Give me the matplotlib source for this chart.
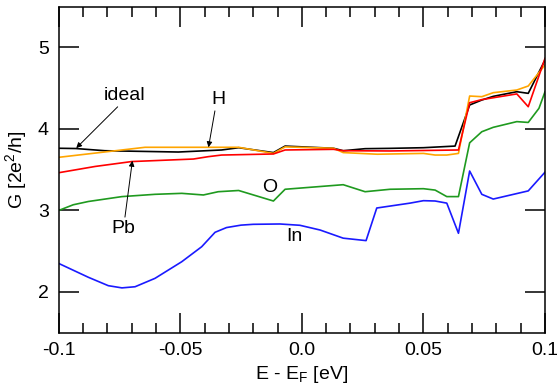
import matplotlib
matplotlib.use("Agg")
import matplotlib.pyplot as plt
from matplotlib.ticker import MultipleLocator

plt.rcParams['font.family'] = ['Liberation Sans', 'DejaVu Sans']

# ideal (black)
x_ideal = [-0.1, -0.093, -0.081, -0.0508, -0.033, -0.026, -0.0117, -0.0069, 0.013, 0.017, 0.026,
           0.0363, 0.05, 0.063, 0.069, 0.074, 0.0787, 0.0884, 0.0931, 0.1]
y_ideal = [3.763, 3.76, 3.733, 3.717, 3.742, 3.77, 3.71, 3.79, 3.763, 3.733, 3.758,
           3.762, 3.77, 3.79, 4.294, 4.355, 4.40, 4.457, 4.437, 4.846]

# H (orange)
x_h = [-0.1, -0.0645, -0.0405, -0.026, -0.0117, -0.0069, 0.013, 0.017, 0.031, 0.05, 0.0548,
       0.0596, 0.0644, 0.069, 0.074, 0.0787, 0.0884, 0.0931, 0.1]
y_h = [3.652, 3.775, 3.775, 3.775, 3.70, 3.78, 3.763, 3.71, 3.69, 3.70, 3.68,
       3.68, 3.70, 4.404, 4.396, 4.445, 4.478, 4.527, 4.785]

# Pb (red)
x_pb = [-0.1, -0.085, -0.07, -0.0446, -0.0385, -0.033, -0.0117, -0.0069, 0.013, 0.017, 0.0363, 0.0644,
        0.069, 0.074, 0.0884, 0.0931, 0.1]
y_pb = [3.463, 3.54, 3.60, 3.631, 3.66, 3.68, 3.693, 3.742, 3.75, 3.733, 3.73, 3.742,
        4.322, 4.36, 4.43, 4.273, 4.867]

# O (green)
x_o = [-0.1, -0.094, -0.0878, -0.074, -0.0604, -0.0494, -0.0405, -0.0344, -0.026, -0.0117, -0.0069, 0.017,
       0.026, 0.0363, 0.05, 0.0548, 0.0596, 0.0644, 0.069, 0.074, 0.0787, 0.0884, 0.0931, 0.0975, 0.1]
y_o = [3.0, 3.07, 3.11, 3.17, 3.198, 3.21, 3.19, 3.23, 3.245, 3.116, 3.26, 3.316,
       3.23, 3.26, 3.267, 3.25, 3.17, 3.17, 3.83, 3.966, 4.02, 4.09, 4.08, 4.253, 4.457]

# In (blue)
x_in = [-0.1, -0.0878, -0.0796, -0.074, -0.0686, -0.0604, -0.0494, -0.0412, -0.0357, -0.031, -0.025,
        -0.02, -0.009, -0.0008, 0.0075, 0.017, 0.0264, 0.0308, 0.0445, 0.05, 0.0548, 0.0596, 0.0644,
        0.069, 0.074, 0.0787, 0.0931, 0.1]
y_in = [2.35, 2.18, 2.077, 2.05, 2.064, 2.167, 2.371, 2.555, 2.732, 2.79, 2.82,
        2.83, 2.834, 2.818, 2.76, 2.66, 2.63, 3.03, 3.09, 3.12, 3.116, 3.09, 2.72,
        3.484, 3.198, 3.14, 3.24, 3.47]

fig = plt.figure(figsize=(5.57, 3.90), dpi=100)
ax = fig.add_axes([0.1054, 0.1469, 0.8731, 0.8359])

lw = 1.2
ax.plot(x_ideal, y_ideal, color='black', lw=lw)
ax.plot(x_h, y_h, color='#ffa500', lw=lw)
ax.plot(x_pb, y_pb, color='#ff0000', lw=lw)
ax.plot(x_o, y_o, color='#1f9a1f', lw=lw)
ax.plot(x_in, y_in, color='#1a1aff', lw=lw)

ax.set_xlim(-0.1, 0.1)
ax.set_ylim(1.5, 5.5)
ax.xaxis.set_minor_locator(MultipleLocator(0.01))
ax.set_xticks([-0.1, -0.05, 0.0, 0.05, 0.1])
ax.set_xticklabels(['-0.1', '-0.05', '0.0', '0.05', '0.1'])
ax.set_yticks([2, 3, 4, 5])
ax.set_yticklabels(['2', '3', '4', '5'])

ax.tick_params(which='both', direction='in', top=True, right=True, width=1.1, labelsize=14, pad=7)
ax.tick_params(which='major', length=14.4)
ax.tick_params(which='minor', length=7.2)
for s in ax.spines.values():
    s.set_linewidth(1.1)

ax.set_xlabel('E - E$_\\mathregular{F}$ [eV]', fontsize=14, labelpad=3)
ax.set_ylabel('G [2e$^\\mathregular{2}$/h]', fontsize=14, labelpad=6)

ap = dict(arrowstyle='-|>', color='black', lw=0.7, mutation_scale=8, shrinkA=0, shrinkB=0)
ax.annotate('ideal', xy=(-0.0928, 3.765), xytext=(-0.0729, 4.41), fontsize=14,
            ha='center', va='center', arrowprops=dict(ap, relpos=(0.4, 0.0)))
ax.annotate('H', xy=(-0.0384, 3.775), xytext=(-0.0344, 4.36), fontsize=14,
            ha='center', va='center', arrowprops=dict(ap, relpos=(0.3, 0.0)))
ax.annotate('Pb', xy=(-0.0697, 3.61), xytext=(-0.0734, 2.78), fontsize=14,
            ha='center', va='center', arrowprops=dict(ap, relpos=(0.55, 1.0)))
ax.text(-0.0131, 3.28, 'O', fontsize=14, ha='center', va='center')
ax.text(-0.0029, 2.68, 'In', fontsize=14, ha='center', va='center')

fig.savefig('out.png', dpi=100)
